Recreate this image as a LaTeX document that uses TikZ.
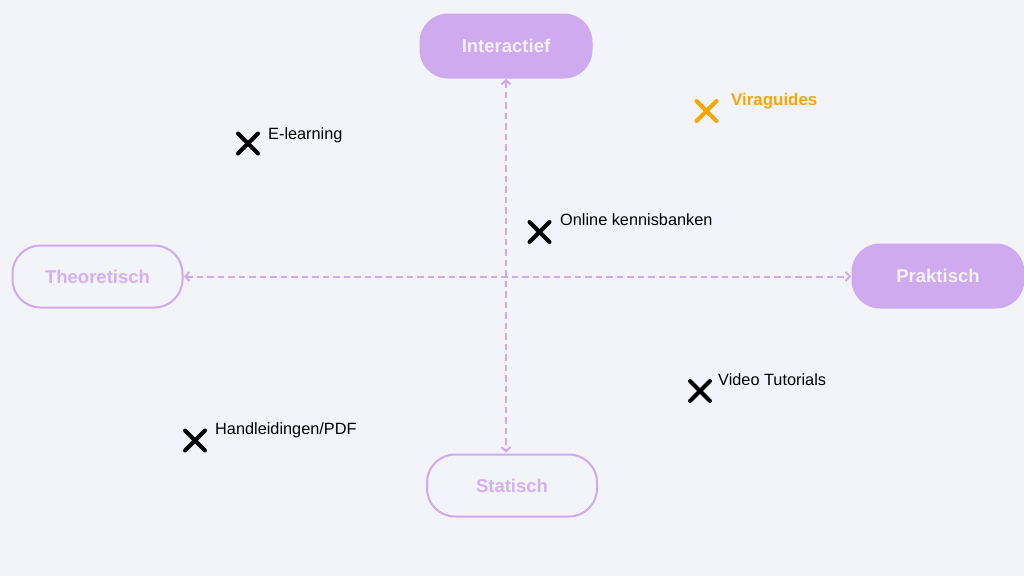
\documentclass[tikz,border=0pt]{standalone}
\usepackage{fontspec}
\setmainfont{Liberation Sans}
\usetikzlibrary{arrows.meta}
\definecolor{bg}{HTML}{F3F4F9}
\definecolor{lav}{HTML}{CFAAEE}
\definecolor{lavtxt}{HTML}{D4B0F2}
\definecolor{filltxt}{HTML}{F6F1FC}
\definecolor{orng}{HTML}{F9A602}
\tikzset{
  pillfilled/.style={fill=lav, draw=lav, line width=1pt, rounded corners=28pt, minimum width=172pt, minimum height=64pt, text=filltxt, font=\fontsize{18.5}{20}\selectfont\bfseries, inner sep=0pt},
  pillopen/.style={draw=lav, line width=2pt, rounded corners=28pt, minimum width=170pt, minimum height=62pt, text=lavtxt, font=\fontsize{18.5}{20}\selectfont\bfseries, inner sep=0pt},
  axisarrow/.style={draw=lav, line width=2pt, dash pattern=on 6.5pt off 4pt, {Straight Barb[length=4pt,width=9pt]}-{Straight Barb[length=4pt,width=9pt]}},
  crossmark/.style={line width=4pt, line cap=round},
  lbl/.style={anchor=base west, inner sep=0pt, font=\fontsize{16.3}{18}\selectfont, text=black}
}
\begin{document}
\begin{tikzpicture}[x=1pt,y=-1pt]
\fill[bg] (0,0) rectangle (1024,576);
\useasboundingbox (0,0) rectangle (1024,576);

\node[pillfilled] (inter) at (506,46) {Interactief};
\node[pillopen] (theo) at (97.5,276.5) {Theoretisch};
\node[pillfilled] (prak) at (938,276) {Praktisch};
\node[pillopen] (stat) at (512,485.5) {Statisch};

\coordinate (vtop) at (506,79);
\coordinate (vbot) at (506,452.5);
\coordinate (hleft) at (184,276.5);
\coordinate (hright) at (851,276.5);
\draw[axisarrow] (vtop) -- (vbot);
\draw[axisarrow] (hleft) -- (hright);

% crosses
\coordinate (c1) at (248,143.5);
\coordinate (c2) at (706.5,111);
\coordinate (c3) at (539.5,232);
\coordinate (c4) at (700,391);
\coordinate (c5) at (195,440.5);
\foreach \c/\col in {c1/black, c3/black, c4/black, c5/black, c2/orng}{
  \draw[crossmark, draw=\col] ([shift={(-10,-10)}]\c) -- ([shift={(10,10)}]\c);
  \draw[crossmark, draw=\col] ([shift={(-10,10)}]\c) -- ([shift={(10,-10)}]\c);
}

\node[lbl] (l1) at (268,139) {E-learning};
\node[lbl, text=orng, font=\fontsize{16.9}{18}\selectfont\bfseries] (l2) at (731,105) {Viraguides};
\node[lbl] (l3) at (560,225) {Online kennisbanken};
\node[lbl] (l4) at (718,385) {Video Tutorials};
\node[lbl] (l5) at (215,434) {Handleidingen/PDF};
\end{tikzpicture}
\end{document}
